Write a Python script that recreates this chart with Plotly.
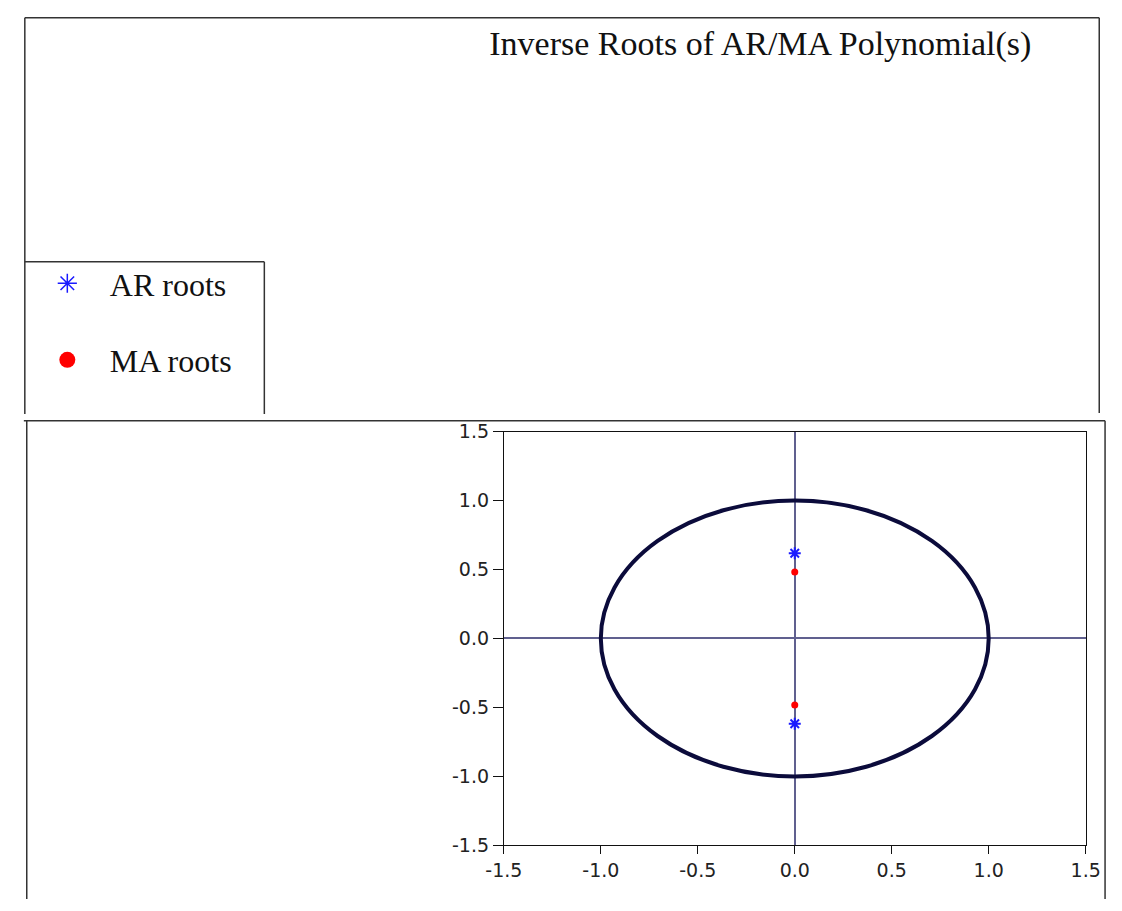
import plotly.graph_objects as go

W, H = 1122, 911

# ---- data ----
ar_real = [0.0, 0.0]
ar_imag = [0.618, -0.618]
ma_real = [0.0, 0.0]
ma_imag = [0.482, -0.482]
tick_vals = [-1.5, -1.0, -0.5, 0.0, 0.5, 1.0, 1.5]
tick_text = ["-1.5", "-1.0", "-0.5", "0.0", "0.5", "1.0", "1.5"]
title_text = "Inverse Roots of AR/MA Polynomial(s)"
series_names = ["AR roots", "MA roots"]

AR_COLOR = "#1a1aff"
MA_COLOR = "#ff0000"


def px(x):
    return x / W


def py(y):
    return 1 - y / H


fig = go.Figure()
# data marks (no legend entry)
fig.add_trace(go.Scatter(
    x=ar_real, y=ar_imag, mode="markers", name=series_names[0],
    showlegend=False,
    marker=dict(symbol="asterisk-open", size=10, color=AR_COLOR,
                line=dict(color=AR_COLOR, width=2)),
))
fig.add_trace(go.Scatter(
    x=ma_real, y=ma_imag, mode="markers", name=series_names[1],
    showlegend=False,
    marker=dict(symbol="circle", size=7, color=MA_COLOR, line=dict(width=0)),
))
# legend entries with larger symbols
fig.add_trace(go.Scatter(
    x=[None], y=[None], mode="markers", name=series_names[0], legendgroup="ar",
    marker=dict(symbol="asterisk-open", size=16, color=AR_COLOR,
                line=dict(color=AR_COLOR, width=1.5)),
))
fig.add_trace(go.Scatter(
    x=[None], y=[None], mode="markers", name=series_names[1], legendgroup="ma",
    marker=dict(symbol="circle", size=16, color=MA_COLOR, line=dict(width=0)),
))

frame = dict(color="#333333", width=1.5)
shapes = []


def seg(x0, y0, x1, y1):
    shapes.append(dict(type="line", xref="paper", yref="paper",
                       x0=px(x0), y0=py(y0), x1=px(x1), y1=py(y1),
                       line=frame, layer="above"))


# top panel frame
seg(6, 7, 1114, 7)
seg(6, 7, 6, 413)
seg(1114, 7, 1114, 412)
# legend box
seg(6, 257, 253, 257)
seg(253, 257, 253, 413)
# bottom panel frame
seg(5, 420, 1120, 420)
seg(8, 420, 8, 910)
seg(1120, 420, 1120, 910)

# unit circle
shapes.append(dict(type="circle", xref="x", yref="y", x0=-1, y0=-1, x1=1, y1=1,
                   line=dict(color="#0b0b3b", width=4), layer="above"))

axis_common = dict(
    range=[-1.5, 1.5], tickvals=tick_vals, ticktext=tick_text,
    showgrid=False, zeroline=True, zerolinecolor="#60608f", zerolinewidth=1.5,
    showline=True, linecolor="#111111", linewidth=1, mirror=True,
    ticks="outside", tickcolor="#111111", tickwidth=1,
    tickfont=dict(family="DejaVu Sans", size=19, color="#222222"),
    fixedrange=True,
)

fig.update_layout(
    width=W, height=H,
    margin=dict(l=0, r=0, t=0, b=0),
    paper_bgcolor="white", plot_bgcolor="white",
    xaxis=dict(domain=[px(500), px(1100)], ticklen=8, **axis_common),
    yaxis=dict(domain=[py(855), py(431)], ticklen=10, **axis_common),
    shapes=shapes,
    title=dict(text=title_text, x=px(485), xanchor="left", xref="paper",
               y=py(33), yanchor="middle", yref="paper",
               font=dict(family="Liberation Serif", size=34, color="#111111")),
    showlegend=True,
    legend=dict(x=px(6), y=py(251), xanchor="left", yanchor="top",
                font=dict(family="Liberation Serif", size=32, color="#111111"),
                itemsizing="trace", tracegroupgap=32, itemwidth=75,
                bgcolor="rgba(0,0,0,0)", borderwidth=0),
)

fig.write_html("out.html")
